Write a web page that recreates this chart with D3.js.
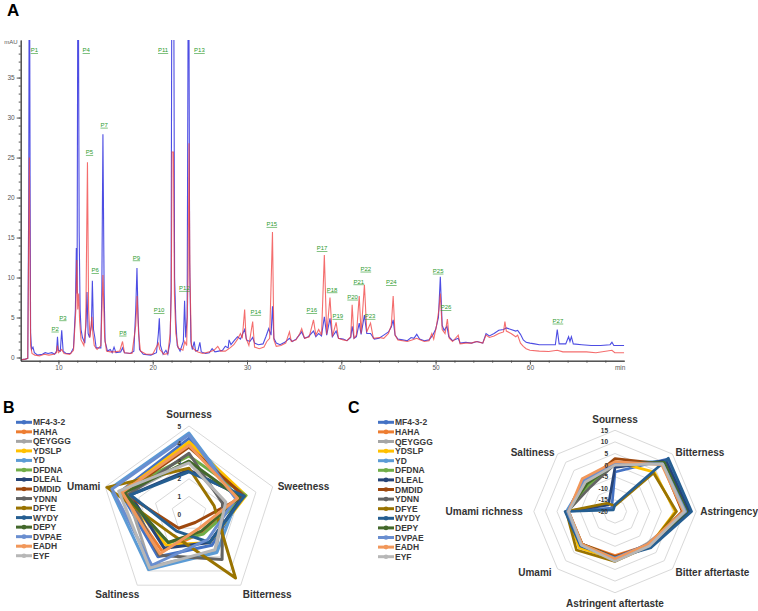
<!DOCTYPE html>
<html><head><meta charset="utf-8">
<script src="https://cdn.jsdelivr.net/npm/d3@7"></script>
<style>body{margin:0;background:#fff;} svg{display:block;font-family:Arial,"Liberation Sans",sans-serif;}</style>
</head><body><svg id="c" width="758" height="611"></svg>
<script>
// ---------------- DATA ----------------
// Panel A: HPLC chromatogram traces [time (min), absorbance (mAU)]
const blueTrace = [[6.0,-0.3],[6.5,-0.2],[6.75,-0.1],[6.85,20],[6.92,60],[7.0,20],[7.05,3.1],[7.15,1.0],[7.3,1.3],[7.45,0.6],[7.8,0.3],[8.3,0.4],[8.6,0.6],[8.9,0.5],[9.3,0.6],[9.6,0.4],[9.8,0.8],[9.9,2.6],[10.0,0.9],[10.2,0.8],[10.35,3.4],[10.5,0.8],[10.8,0.5],[11.3,0.5],[11.6,1.2],[11.8,6],[11.9,13.7],[11.98,8],[12.08,60],[12.2,15.7],[12.3,6],[12.4,3.5],[12.55,2.5],[12.8,1.8],[12.95,5],[13.03,8.2],[13.15,3],[13.3,2.5],[13.5,4],[13.6,9.6],[13.72,3.5],[13.85,2.6],[14.0,1.2],[14.5,1.2],[14.6,8],[14.72,27.9],[14.85,8],[14.95,2],[15.2,0.8],[15.5,1.0],[15.7,0.6],[15.9,1.3],[16.1,0.6],[16.6,0.7],[16.8,1.2],[17.0,0.6],[17.6,0.5],[18.0,0.8],[18.2,6],[18.33,11.2],[18.45,5],[18.6,1.0],[19.0,0.4],[19.8,0.3],[20.4,0.6],[20.6,3],[20.7,4.9],[20.82,1.5],[21.1,0.4],[21.4,0.9],[21.6,0.4],[21.85,2],[21.95,8.6],[22.05,60],[22.2,60],[22.32,10],[22.45,4.7],[22.6,1.5],[22.9,0.8],[23.25,2],[23.38,7.1],[23.5,2.5],[23.65,5],[23.8,60],[23.92,12],[24.05,2],[24.2,1.0],[24.4,2.0],[24.55,0.8],[24.8,0.9],[25.0,1.9],[25.15,0.7],[25.6,0.5],[26.0,0.6],[26.3,1.1],[26.6,0.7],[27.0,0.8],[27.4,0.9],[27.7,1.4],[28.0,1.2],[28.1,2.2],[28.3,1.6],[28.7,2.2],[29.0,2.6],[29.3,2.3],[29.55,3.0],[29.75,3.5],[29.95,2.2],[30.3,2.0],[30.6,2.5],[30.8,1.8],[31.2,1.6],[31.7,1.7],[32.0,2.6],[32.3,3.6],[32.55,2.8],[32.7,6.4],[32.85,2.4],[33.1,1.8],[33.5,1.6],[34.0,1.9],[34.5,2.4],[34.8,2.0],[35.2,2.3],[35.6,2.9],[35.8,3.2],[36.1,2.4],[36.5,2.6],[37.05,3.3],[37.3,2.6],[37.6,3.0],[37.9,2.7],[38.2,5.1],[38.45,2.8],[38.8,4.9],[39.05,2.6],[39.45,3.3],[39.7,2.4],[40.2,2.3],[40.6,2.1],[41.0,2.5],[41.15,3.9],[41.35,2.4],[41.6,2.6],[41.9,4.3],[42.1,2.9],[42.45,5.3],[42.7,3.0],[43.1,3.0],[43.5,2.3],[44.0,2.4],[44.5,2.8],[45.0,3.2],[45.3,3.8],[45.5,4.7],[45.7,2.8],[46.0,2.3],[46.5,2.2],[47.0,2.1],[47.4,2.5],[47.7,2.4],[48.0,2.9],[48.3,2.3],[48.8,2.1],[49.3,2.2],[49.7,2.8],[50.0,3.5],[50.3,5],[50.5,10.1],[50.7,4],[50.9,3.4],[51.2,3.9],[51.4,2.6],[51.8,2.1],[52.4,2.4],[52.6,1.8],[53.2,1.9],[53.8,1.8],[54.4,2.0],[55.0,1.8],[55.35,3.0],[55.7,2.7],[56.2,3.0],[56.7,3.4],[57.2,3.5],[57.5,3.7],[58.0,3.5],[58.5,3.3],[58.7,3.4],[59.0,2.9],[59.3,2.2],[59.6,1.9],[60.0,1.8],[60.5,1.7],[61.0,1.6],[62.0,1.6],[62.7,1.6],[62.9,3.5],[63.1,1.7],[63.8,1.7],[64.1,2.6],[64.25,2.0],[64.4,2.6],[64.6,1.7],[65.5,1.6],[66.5,1.5],[67.5,1.5],[68.5,1.6],[68.7,1.9],[68.9,1.5],[70.0,1.5]];
const redTrace = [[6.0,-0.3],[6.5,-0.2],[6.75,-0.1],[6.85,15],[6.92,25],[7.0,10],[7.05,1.5],[7.2,0.5],[7.5,0.3],[8.0,0.2],[8.5,0.4],[9.0,0.3],[9.5,0.4],[9.8,0.6],[9.9,1.5],[10.0,0.6],[10.35,1.0],[10.6,0.5],[11.2,0.4],[11.6,0.9],[11.85,6],[11.95,12.2],[12.05,6],[12.15,8],[12.25,4.5],[12.4,2.2],[12.7,1.5],[12.9,4],[13.08,24.4],[13.2,6],[13.35,2.5],[13.55,5.1],[13.65,3],[13.8,1.5],[14.1,1.0],[14.5,1.5],[14.72,10.3],[14.9,2.5],[15.1,0.8],[15.5,0.7],[16.0,0.7],[16.5,0.8],[16.8,2.0],[17.0,0.6],[17.8,0.5],[18.2,4],[18.35,7.7],[18.5,3],[18.7,0.8],[19.3,0.4],[20.0,0.4],[20.6,1.8],[20.75,1.0],[21.2,0.4],[21.6,0.5],[21.85,3],[21.97,8],[22.05,25.7],[22.2,25.7],[22.3,8],[22.45,3],[22.7,1.2],[23.2,0.9],[23.4,2.0],[23.6,1.5],[23.75,10],[23.85,26.8],[23.95,10],[24.1,1.5],[24.4,1.0],[24.8,0.7],[25.3,0.5],[26.0,0.7],[26.5,0.9],[26.9,1.4],[27.2,0.8],[27.7,0.8],[28.2,1.2],[28.6,1.6],[29.0,2.3],[29.3,3.0],[29.5,2.4],[29.75,6.0],[29.9,2.4],[30.2,1.5],[30.6,4.5],[30.8,1.3],[31.3,1.1],[31.8,1.3],[32.1,2.0],[32.4,2.4],[32.7,15.7],[32.85,2.2],[33.1,1.4],[33.6,1.5],[34.1,1.8],[34.5,3.2],[34.7,2.0],[35.2,2.2],[35.6,3.0],[35.8,3.6],[36.1,2.4],[36.6,2.6],[37.05,4.7],[37.3,2.8],[37.6,3.5],[37.9,2.8],[38.2,12.8],[38.45,2.9],[38.8,7.5],[39.05,2.6],[39.45,4.4],[39.7,2.4],[40.2,2.2],[40.6,2.1],[41.0,2.6],[41.15,6.6],[41.35,2.4],[41.6,2.8],[41.9,7.7],[42.1,3.0],[42.45,9.1],[42.7,3.2],[43.1,4.3],[43.4,2.4],[44.0,2.5],[44.5,2.4],[45.0,3.0],[45.3,4],[45.5,7.7],[45.7,2.8],[46.0,2.2],[46.5,2.1],[47.0,2.0],[47.5,2.2],[48.0,2.4],[48.4,2.2],[48.8,2.0],[49.3,2.1],[49.6,3.0],[49.8,2.3],[50.1,4.0],[50.35,6],[50.5,8.0],[50.7,3.5],[51.0,3.0],[51.25,4.8],[51.45,2.4],[51.8,2.0],[52.4,2.8],[52.6,1.7],[53.2,1.8],[53.8,1.8],[54.3,2.0],[55.0,1.8],[55.35,2.8],[55.7,2.5],[56.2,2.7],[56.7,3.0],[57.2,3.2],[57.35,4.5],[57.5,3.3],[58.0,3.0],[58.5,2.6],[58.7,2.8],[59.0,1.8],[59.3,1.4],[59.6,1.1],[60.0,0.9],[61.0,0.8],[62.0,0.75],[62.9,0.9],[63.5,0.7],[64.5,0.7],[66.0,0.7],[67.0,0.6],[68.7,0.9],[69.0,0.6],[70.0,0.6]];
const peakNames  = ["P1","P2","P3","P4","P5","P6","P7","P8","P9","P10","P11","P12","P13","P14","P15","P16","P17","P18","P19","P20","P21","P22","P23","P24","P25","P26","P27"];
const peakTimes  = [7.45,9.65,10.47,12.95,13.3,13.9,14.85,16.83,18.27,20.68,21.1,23.36,24.95,30.93,32.63,36.87,37.96,39.02,39.63,41.2,41.85,42.6,43.05,45.3,50.27,51.1,62.97];
const peakLevels = [38.4,3.6,5.0,38.4,25.7,10.9,29.1,3.1,12.5,5.9,38.4,8.7,38.4,5.7,16.7,5.9,13.65,8.5,5.2,7.6,9.5,11.1,5.2,9.4,10.85,6.3,4.6];
const timeTicks = [10,20,30,40,50,60];
const mauTicks  = [0,5,10,15,20,25,30,35];

// Panels B and C: peptides
const peptides = ["MF4-3-2","HAHA","QEYGGG","YDSLP","YD","DFDNA","DLEAL","DMDID","YDNN","DFYE","WYDY","DEPY","DVPAE","EADH","EYF"];
// Panel B: sensory scores
const tastesB = ["Sourness","Sweetness","Bitterness","Saltiness","Umami"];
const scoresB = [
 [4.3,3.2,2.2,3.0,4.1],
 [3.9,3.3,1.3,2.6,4.1],
 [3.0,2.1,2.6,3.7,3.7],
 [4.1,3.4,2.0,2.2,4.0],
 [4.6,2.9,2.7,3.9,4.7],
 [3.3,3.4,1.4,2.0,4.1],
 [2.5,3.2,2.0,2.4,3.5],
 [3.8,3.3,0.6,1.0,3.9],
 [3.45,2.0,3.2,2.9,3.6],
 [2.6,1.5,4.5,1.5,4.9],
 [2.4,3.3,2.0,1.2,3.5],
 [3.0,3.0,1.2,2.0,3.9],
 [4.5,2.8,1.8,3.6,4.6],
 [3.9,2.9,1.0,2.8,4.0],
 [2.9,2.2,2.5,3.8,4.2]
];
const ticksB = [0,1,2,3,4,5];
// Panel C: electronic tongue responses
const tastesC = ["Sourness","Bitterness","Astringency","Bitter aftertaste","Astringent aftertaste","Umami","Umami richness","Saltiness"];
const scoresC = [
 [-3,12,12.5,1.5,0,0,1,-18],
 [1,9,10,0.5,-1,0,0.5,-1],
 [0,10,11,-0.5,1.5,0.5,0,-2],
 [1.5,4,6,1,0.5,2,0.5,-3],
 [1,10.5,11,0.5,0,0.5,1,-1.5],
 [0.5,9.5,10,1,0.5,0.5,0.5,-4],
 [-1,11,12,1.5,0.5,0.5,1,-16],
 [2.8,9,9,0.5,-0.5,0,0,-2.5],
 [0.5,10,10.5,0,0.5,0.5,0.5,-5],
 [-17.5,3.5,6.5,1,1.5,3.5,1,-15],
 [-17,12.5,13,2,0,1,1.5,-19],
 [0.5,10,11,0.5,0,0,0.5,-3],
 [1,9,10.5,0,0,0.5,0.5,-1],
 [1.5,8.5,9.5,0,0.5,0,0,0],
 [0,9,10,1,1.5,0.5,0,-2]
];
const ticksC = [-20,-15,-10,-5,0,5,10,15];

// ---------------- STYLE ----------------
const palette = ["#4472C4","#ED7D31","#A5A5A5","#FFC000","#5B9BD5","#70AD47","#264478","#9E480E","#636363","#997300","#255E91","#43682B","#698ED0","#F1975A","#B7B7B7"];

const svg = d3.select("#c");

// ---------------- PANEL A ----------------
const gA = svg.append("g");
const x = d3.scaleLinear().domain([6,70]).range([20.7,624.2]);
const y = d3.scaleLinear().domain([-0.4,39.7]).range([360.7,40]);
svg.append("defs").append("clipPath").attr("id","clipA").append("rect")
  .attr("x",x(6)).attr("y",y(39.7)).attr("width",x(70)-x(6)).attr("height",y(-0.4)-y(39.7));
const line = d3.line().x(d=>x(d[0])).y(d=>y(d[1]));
const plot = gA.append("g").attr("clip-path","url(#clipA)");
plot.append("path").datum(blueTrace).attr("d",line).attr("fill","none").attr("stroke","#3a3ae0").attr("stroke-width",1.1).attr("stroke-opacity",0.9);
plot.append("path").datum(redTrace).attr("d",line).attr("fill","none").attr("stroke","#f03c3c").attr("stroke-width",1.1).attr("stroke-opacity",0.75);

function styleAxis(g){
  g.selectAll("text").attr("fill","#555").style("font-size","6.5px");
  g.selectAll("line").attr("stroke","#555");
  g.select(".domain").attr("stroke","#444");
}
gA.append("g").attr("transform",`translate(${x(6)},0)`)
  .call(d3.axisLeft(y).tickValues(d3.range(0,40,1)).tickSize(2).tickFormat("").tickSizeOuter(0)).call(styleAxis);
gA.append("g").attr("transform",`translate(${x(6)},0)`)
  .call(d3.axisLeft(y).tickValues(mauTicks).tickSize(4).tickPadding(2).tickSizeOuter(0)).call(styleAxis);
gA.append("g").attr("transform",`translate(0,${y(-0.4)})`)
  .call(d3.axisBottom(x).tickValues(d3.range(8,70,2)).tickSize(2).tickFormat("").tickSizeOuter(0)).call(styleAxis);
gA.append("g").attr("transform",`translate(0,${y(-0.4)})`)
  .call(d3.axisBottom(x).tickValues(timeTicks).tickSize(4).tickPadding(1).tickSizeOuter(0)).call(styleAxis);
gA.append("text").attr("x",x(6)-3).attr("y",y(39.7)+4).attr("text-anchor","end").attr("fill","#555").style("font-size","6px").text("mAU");
gA.append("text").attr("x",x(70)-4).attr("y",y(-0.4)+9).attr("text-anchor","middle").attr("fill","#555").style("font-size","6.5px").text("min");

gA.selectAll(".plab").data(peakNames).enter().append("text")
  .attr("x",(d,i)=>x(peakTimes[i])).attr("y",(d,i)=>y(peakLevels[i])+2)
  .attr("text-anchor","middle").attr("fill","#2e9a2e").style("font-size","6px")
  .style("text-decoration","underline").text(d=>d);

svg.append("text").attr("x",7).attr("y",16).style("font-size","17px").style("font-weight","bold").text("A");
svg.append("text").attr("x",3).attr("y",413).style("font-size","16px").style("font-weight","bold").text("B");
svg.append("text").attr("x",348).attr("y",413).style("font-size","16px").style("font-weight","bold").text("C");

// ---------------- LEGENDS ----------------
function legend(x0, y0, step){
  const g = svg.append("g");
  peptides.forEach((p,i)=>{
    const yy = y0 + i*step;
    g.append("line").attr("x1",x0).attr("x2",x0+16).attr("y1",yy).attr("y2",yy)
      .attr("stroke",palette[i]).attr("stroke-width",3);
    g.append("circle").attr("cx",x0+8).attr("cy",yy).attr("r",2.3).attr("fill",palette[i]);
    g.append("text").attr("x",x0+17).attr("y",yy+3).style("font-size","8.5px").style("font-weight","bold")
      .attr("fill","#3a3a3a").text(p);
  });
}
legend(16, 422.3, 9.53);
legend(378, 422.3, 9.6);

// ---------------- RADARS ----------------
function radar(o){
  const n = o.axes.length;
  const g = svg.append("g").attr("transform",`translate(${o.cx},${o.cy})`);
  const r = d3.scaleLinear().domain([o.ticks[0], o.ticks[o.ticks.length-1]]).range([0,o.R]);
  const ang = i => i*2*Math.PI/n;
  o.ticks.slice(1).forEach(t=>{
    g.append("path").attr("d", d3.lineRadial().angle((d,i)=>ang(i)).radius(()=>r(t)).curve(d3.curveLinearClosed)(o.axes))
      .attr("fill","none").attr("stroke","#d9d9d9").attr("stroke-width",1);
  });
  const rl = d3.lineRadial().angle((d,i)=>ang(i)).radius(d=>r(d)).curve(d3.curveLinearClosed);
  o.values.forEach((vals,s)=>{
    g.append("path").attr("d",rl(vals)).attr("fill","none").attr("stroke",palette[s])
      .attr("stroke-width",o.sw).attr("stroke-linejoin","round");
  });
  o.ticks.forEach(t=>{
    g.append("text").attr("x",o.tickDx).attr("y",-r(t)+2.5).attr("text-anchor","end")
      .style("font-size","6.5px").style("font-weight","bold").attr("fill","#333").text(t);
  });
  o.axes.forEach((a,i)=>{
    const px = o.R*Math.sin(ang(i)), py = -o.R*Math.cos(ang(i));
    const pl = o.place[i];
    g.append("text").attr("x",px+pl[0]).attr("y",py+pl[1]).attr("text-anchor",pl[2])
      .style("font-size","10px").style("font-weight","bold").attr("fill","#333").text(a);
  });
}
radar({cx:189, cy:514, R:88, axes:tastesB, ticks:ticksB, values:scoresB, sw:3, tickDx:-8,
  place:[[0,-8,"middle"],[5,3.5,"start"],[2,12.5,"start"],[2,12.5,"end"],[-5,3.5,"end"]]});
radar({cx:615, cy:511.5, R:81.2, axes:tastesC, ticks:ticksC, values:scoresC, sw:2.7, tickDx:-7,
  place:[[0,-7,"middle"],[3,2,"start"],[4,3.5,"start"],[3,7,"start"],[0,14,"middle"],[-6,7,"end"],[-11,3.5,"end"],[-3,2,"end"]]});
</script></body></html>
